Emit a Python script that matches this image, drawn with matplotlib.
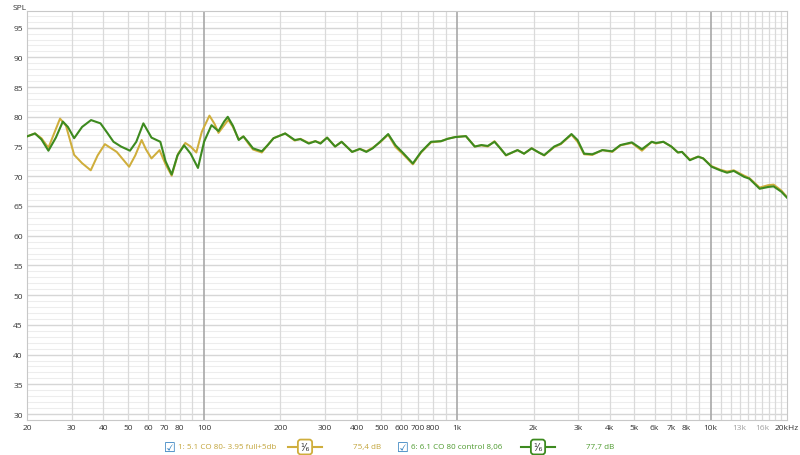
#!/usr/bin/env python3
# -*- coding: utf-8 -*-
"""
Réponse en fréquence (SPL) : deux mesures, lissage 1/6 d'octave.
Enregistre out.png (800x456).
"""

import matplotlib
matplotlib.use("Agg")
import matplotlib.pyplot as plt
from matplotlib.lines import Line2D
from matplotlib.ticker import FixedLocator, NullFormatter

# ---------------------------------------------------------------------
# données (fréquence en Hz, niveau en dB)
green_freq = [20, 21.5, 22.8, 24.3, 26, 27.7, 29, 30.7, 33, 35.8, 39, 41.5, 43.9, 47,
              51, 54, 57.6, 62, 67.2, 70.5, 74.5, 78.5, 83.4, 88.5, 94.6, 100, 107,
              114, 120, 124, 130, 137, 143, 149, 156, 169, 178, 188, 209, 228, 240,
              259, 275, 288, 306, 329, 349, 384, 412, 437, 463, 495, 533, 570, 614,
              667, 719, 787, 862, 915, 982, 1080, 1171, 1244, 1318, 1401, 1470, 1555,
              1727, 1832, 1963, 2096, 2200, 2410, 2560, 2820, 2980, 3164, 3410, 3736,
              4085, 4400, 4880, 5350, 5850, 6075, 6500, 6990, 7420, 7700, 8270, 8920,
              9340, 10080, 10900, 11600, 12330, 13550, 14200, 15600, 16850, 17700,
              19000, 20000]
green_spl = [76.7, 77.2, 76.2, 74.3, 76.5, 79.2, 78.3, 76.4, 78.3, 79.45, 78.9, 77.3,
             75.8, 75.0, 74.3, 75.8, 78.9, 76.5, 75.8, 72.5, 70.3, 73.5, 75.2, 73.8,
             71.4, 75.8, 78.6, 77.6, 79.2, 80.0, 78.5, 76.1, 76.7, 75.8, 74.7, 74.2,
             75.2, 76.4, 77.2, 76.1, 76.25, 75.5, 75.9, 75.5, 76.5, 75.0, 75.8, 74.1,
             74.6, 74.1, 74.7, 75.8, 77.1, 75.2, 73.8, 72.15, 74.1, 75.8, 75.9, 76.3,
             76.6, 76.75, 75.0, 75.25, 75.1, 75.8, 74.8, 73.55, 74.4, 73.8, 74.7, 74.0,
             73.55, 75.0, 75.5, 77.1, 76.1, 73.8, 73.7, 74.4, 74.2, 75.25, 75.7, 74.55,
             75.8, 75.6, 75.8, 75.0, 74.0, 74.1, 72.7, 73.3, 73.0, 71.6, 71.0, 70.6,
             70.9, 69.9, 69.6, 67.9, 68.2, 68.3, 67.4, 66.4]

yellow_freq = [20, 21.5, 22.8, 24.3, 27, 28.5, 30.7, 33, 35.7, 38, 40.6, 45.2, 50.6,
               53.5, 56.7, 59, 62, 66.7, 70.5, 74.5, 79, 84.3, 88.5, 93.2, 98, 105,
               110, 114, 124.6, 130, 137, 143, 149, 156, 169, 178, 188, 209, 228, 240,
               259, 275, 288, 306, 329, 349, 384, 412, 437, 463, 495, 533, 570, 614,
               667, 719, 787, 862, 915, 982, 1080, 1171, 1244, 1318, 1401, 1470, 1555,
               1727, 1832, 1963, 2096, 2200, 2410, 2560, 2820, 2980, 3164, 3410, 3736,
               4085, 4400, 4880, 5350, 5850, 6075, 6500, 6990, 7420, 7700, 8270, 8920,
               9340, 10080, 10900, 11600, 12330, 13550, 14200, 15600, 16850, 17700,
               19000, 20000]
yellow_spl = [76.7, 77.2, 76.4, 74.8, 79.7, 78.5, 73.6, 72.2, 71.0, 73.5, 75.4, 74.1,
              71.6, 73.5, 76.1, 74.5, 73.0, 74.4, 72.0, 70.1, 73.8, 75.6, 75.0, 74.0,
              77.5, 80.2, 78.8, 77.3, 79.5, 78.3, 76.2, 76.7, 75.6, 74.5, 74.0, 75.2,
              76.4, 77.2, 76.0, 76.3, 75.6, 75.9, 75.6, 76.5, 75.0, 75.8, 74.1, 74.6,
              74.2, 74.8, 75.7, 77.0, 74.9, 73.6, 72.0, 74.0, 75.7, 75.9, 76.3, 76.6,
              76.75, 75.0, 75.2, 75.0, 75.9, 74.8, 73.5, 74.4, 73.8, 74.7, 74.0, 73.5,
              74.9, 75.4, 77.0, 75.8, 73.7, 73.6, 74.4, 74.1, 75.2, 75.6, 74.3, 75.8,
              75.5, 75.8, 75.0, 74.0, 74.1, 72.8, 73.3, 73.0, 71.7, 71.1, 70.8, 71.0,
              70.1, 69.7, 68.1, 68.5, 68.6, 67.6, 66.5]

xtick_pos = [20, 30, 40, 50, 60, 70, 80, 100, 200, 300, 400, 500, 600, 700, 800,
             1000, 2000, 3000, 4000, 5000, 6000, 7000, 8000, 10000, 13000, 16000, 20000]
xtick_lab = ["20", "30", "40", "50", "60", "70", "80", "100", "200", "300", "400",
             "500", "600", "700", "800", "1k", "2k", "3k", "4k", "5k", "6k", "7k",
             "8k", "10k", "13k", "16k", "20kHz"]
ytick_pos = list(range(30, 96, 5))

legend_names = ["1: 5.1 CO 80- 3.95 full+5db", "6: 6.1 CO 80 control 8,06"]
legend_levels = ["75,4 dB", "77,7 dB"]

YELLOW = "#cfae3c"
GREEN = "#3d8a1f"


def main() -> None:
    plt.rcParams["font.family"] = ["Open Sans", "DejaVu Sans"]

    fig = plt.figure(figsize=(8.0, 4.56), dpi=100)
    ax = fig.add_axes([27 / 800, 35 / 456, 760 / 800, 409 / 456])

    ax.set_xscale("log")
    ax.set_xlim(20, 20000)
    ax.set_ylim(29, 97.8)

    # grille horizontale : 1 dB fine, 5 dB plus marquée
    for v in range(29, 98):
        if v % 5 == 0:
            ax.axhline(v, color="#d6d6d6", lw=1.0, zorder=0)
        else:
            ax.axhline(v, color="#ededed", lw=0.8, zorder=0)

    # grille verticale : 10 Hz / 100 Hz / 1 kHz selon la décade
    vgrid = ([f for f in range(30, 100, 10)] + [f for f in range(200, 1000, 100)]
             + [f for f in range(2000, 10000, 1000)] + [f for f in range(11000, 20000, 1000)])
    for f in vgrid:
        ax.axvline(f, color="#dadada", lw=0.9, zorder=1)
    for f in (100, 1000, 10000):
        ax.axvline(f, color="#a8a8a8", lw=1.2, zorder=1)

    ax.plot(yellow_freq, yellow_spl, color=YELLOW, lw=1.45, solid_joinstyle="round", zorder=3)
    ax.plot(green_freq, green_spl, color=GREEN, lw=1.5, solid_joinstyle="round", zorder=4)

    ax.xaxis.set_major_locator(FixedLocator(xtick_pos))
    ax.set_xticklabels(xtick_lab)
    ax.xaxis.set_minor_formatter(NullFormatter())
    ax.xaxis.set_minor_locator(FixedLocator([]))
    ax.set_yticks(ytick_pos)
    ax.tick_params(axis="both", length=0, labelsize=6, colors="#333333")
    ax.tick_params(axis="x", pad=3)
    ax.tick_params(axis="y", pad=3)
    for lab, txt in zip(ax.get_xticklabels(), xtick_lab):
        if txt in ("13k", "16k"):
            lab.set_color("#a0a0a0")

    for s in ax.spines.values():
        s.set_color("#c8c8c8")
        s.set_linewidth(0.8)

    fig.text(13 / 800, 1 - 9 / 456, "SPL", fontsize=6, color="#333333", va="center")

    # légende en bas
    y_leg = 1 - 448 / 456
    starts = [170, 403]
    colors = [YELLOW, GREEN]
    text_colors = ["#c2a43a", "#4d9a2e"]
    for x0, name, lvl, c, tc in zip(starts, legend_names, legend_levels, colors, text_colors):
        fig.text(x0 / 800, y_leg, "\u2611", fontsize=9.5, color="#2b7bbd",
                 va="center", ha="center", family=["DejaVu Sans"])
        fig.text((x0 + 8) / 800, y_leg, name, fontsize=5.8, color=tc, va="center")
        sx = x0 + 118
        fig.add_artist(Line2D([sx / 800, (sx + 34) / 800], [y_leg, y_leg],
                              color=c, lw=1.5, transform=fig.transFigure))
        fig.text((sx + 17) / 800, y_leg, "\u00b9\u2044\u2086", fontsize=7, color="#333333",
                 ha="center", va="center", family=["DejaVu Sans"],
                 bbox=dict(boxstyle="round,pad=0.25,rounding_size=0.3", fc="white", ec=c, lw=1.3))
        fig.text((x0 + 183) / 800, y_leg, lvl, fontsize=5.8, color=tc, va="center")

    fig.savefig("out.png", dpi=100, facecolor="white")


if __name__ == "__main__":
    main()
